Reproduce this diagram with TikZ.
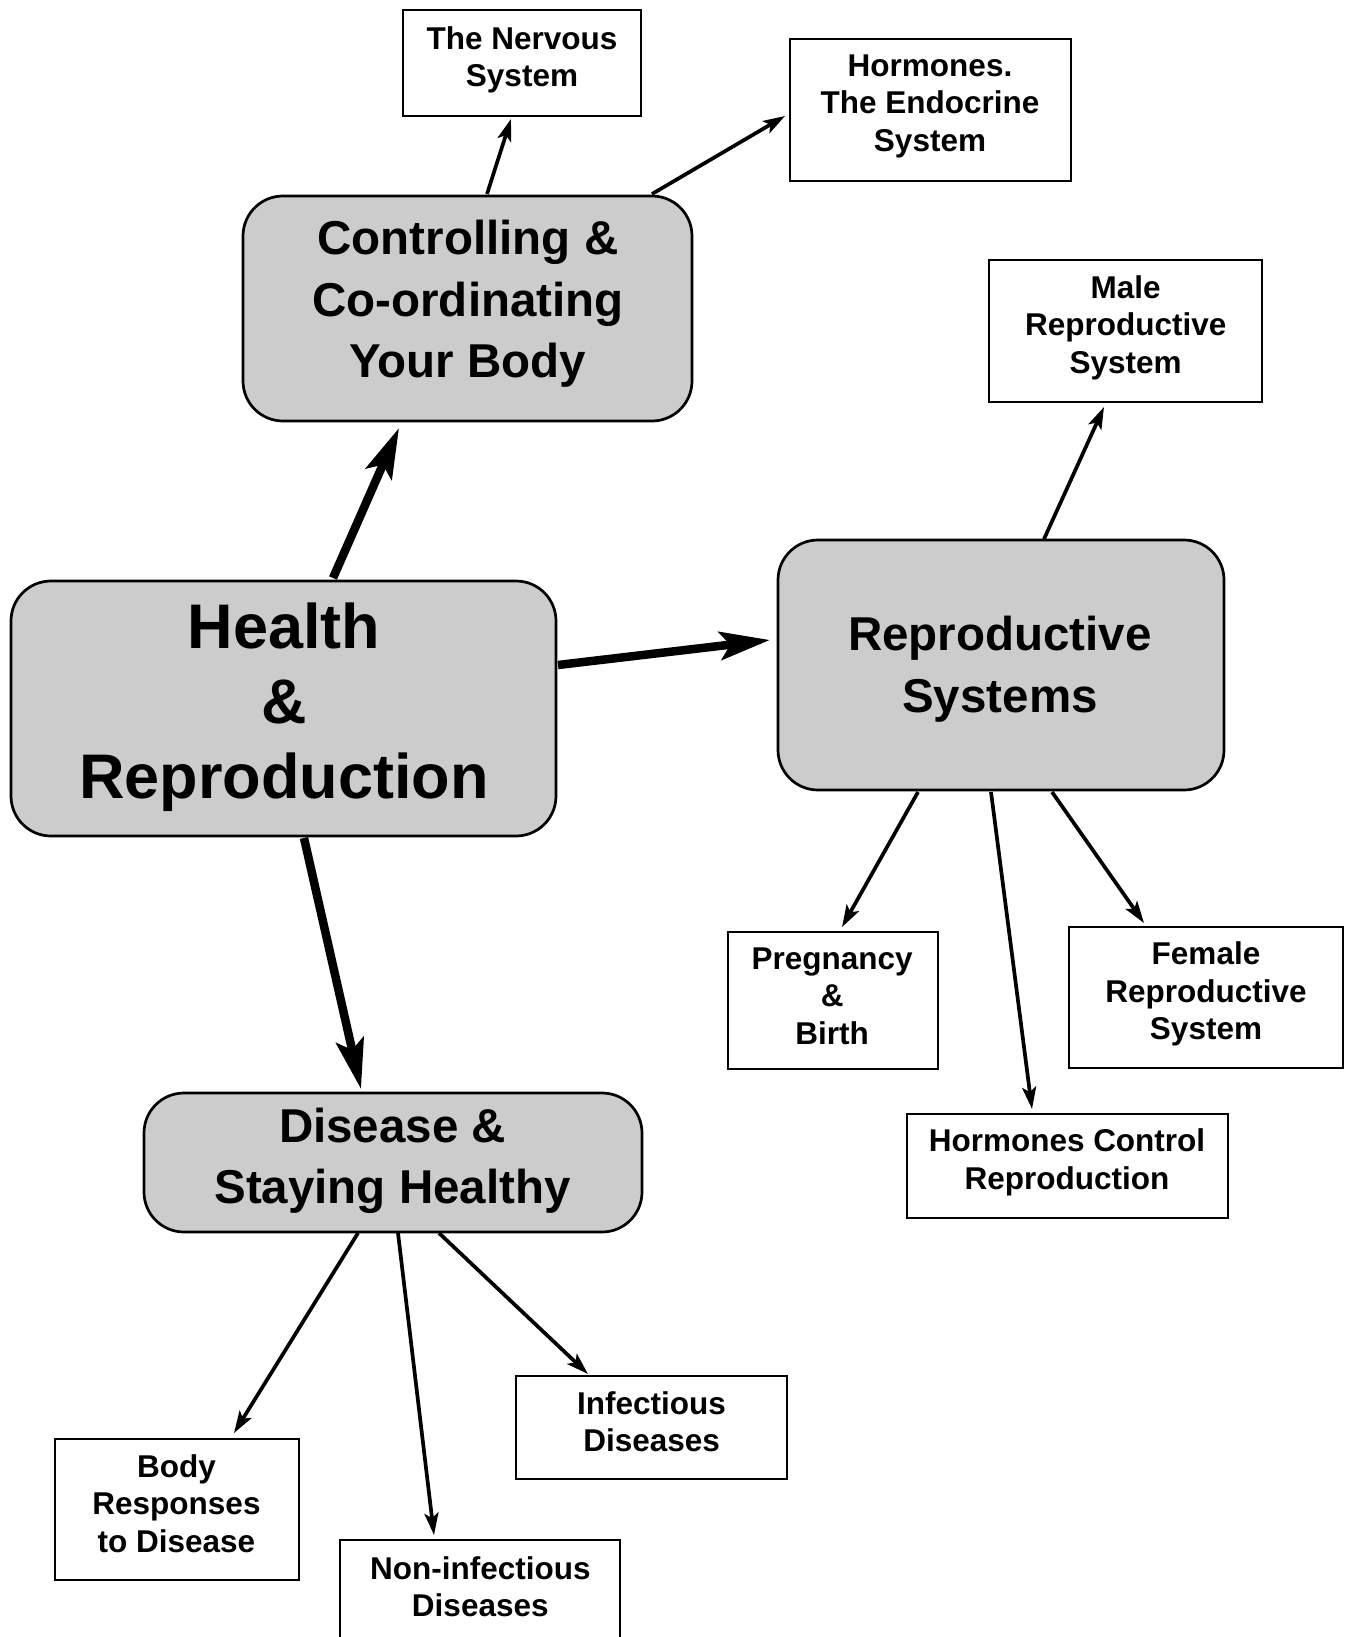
\documentclass[tikz,border=0pt]{standalone}
\usepackage{fontspec}
\setmainfont{Liberation Sans}
\usetikzlibrary{arrows.meta}
\definecolor{boxgray}{HTML}{CCCCCC}
\newcommand{\fsmall}{\fontsize{31.5}{37.5}\selectfont\bfseries}
\newcommand{\fmed}{\fontsize{47.5}{61.6}\selectfont\bfseries}
\newcommand{\flarge}{\fontsize{63}{75.2}\selectfont\bfseries}
\tikzset{
  plainbox/.style={draw=black, line width=2.7pt, fill=white, inner sep=0pt, outer sep=0pt},
  graybox/.style={draw=black, line width=2.7pt, fill=boxgray, rounded corners=40pt, inner sep=0pt, outer sep=0pt},
  txt/.style={align=center, inner sep=0pt, outer sep=0pt},
  thinarrow/.style={line width=3.7pt, -{Stealth[length=22pt,width=14pt,inset=5pt]}},
  thickarrow/.style={line width=8.5pt, -{Stealth[length=50pt,width=28pt,inset=10pt]}}
}
\begin{document}
\begin{tikzpicture}[x=1pt,y=-1pt]
\useasboundingbox (0,0) rectangle (1347,1637);
\clip (0,0) rectangle (1347,1637);
\fill[white] (0,0) rectangle (1347,1637);

% boxes
\node[plainbox, minimum width=238pt, minimum height=106pt] (nerv) at (522,63) {};
\node[plainbox, minimum width=281pt, minimum height=142pt] (endo) at (930.5,110) {};
\node[graybox, minimum width=449pt, minimum height=225pt] (ctrl) at (467.5,308.5) {};
\node[plainbox, minimum width=273pt, minimum height=142pt] (male) at (1125.5,331) {};
\node[graybox, minimum width=545pt, minimum height=255pt] (health) at (283.5,708.5) {};
\node[graybox, minimum width=446pt, minimum height=250pt] (repro) at (1001,665) {};
\node[plainbox, minimum width=210pt, minimum height=137pt] (preg) at (833,1000.5) {};
\node[plainbox, minimum width=274pt, minimum height=141pt] (fem) at (1206,997.5) {};
\node[plainbox, minimum width=321pt, minimum height=104pt] (hc) at (1067.5,1166) {};
\node[graybox, minimum width=498pt, minimum height=139pt] (dis) at (393,1162.5) {};
\node[plainbox, minimum width=244pt, minimum height=141pt] (body) at (177,1509.5) {};
\node[plainbox, minimum width=271pt, minimum height=103pt] (inf) at (651.5,1427.5) {};
\node[plainbox, minimum width=280pt, minimum height=140pt] (noninf) at (480,1610) {};

% texts
\node[txt, font=\fsmall] (tnerv) at (522,59.8) {The Nervous\\System};
\node[txt, font=\fsmall] (tendo) at (930,106) {Hormones.\\The Endocrine\\System};
\node[txt, font=\fmed] (tctrl) at (468,304) {Controlling \&\\Co-ordinating\\Your Body};
\node[txt, font=\fsmall] (tmale) at (1125.7,327.5) {Male\\Reproductive\\System};
\node[txt, font=\flarge] (thealth) at (284,707) {Health\\\&\\Reproduction};
\node[txt, font=\fmed] (trepro) at (1000,669) {Reproductive\\Systems};
\node[txt, font=\fsmall] (tpreg) at (832.2,996.2) {Pregnancy\\\&\\Birth};
\node[txt, font=\fsmall] (tfem) at (1206,994.3) {Female\\Reproductive\\System};
\node[txt, font=\fsmall] (thc) at (1067,1162.3) {Hormones Control\\Reproduction};
\node[txt, font=\fmed] (tdis) at (392.6,1161) {Disease \&\\Staying Healthy};
\node[txt, font=\fsmall] (tbody) at (176.5,1503.6) {Body\\Responses\\to Disease};
\node[txt, font=\fsmall] (tinf) at (651.6,1421.7) {Infectious\\Diseases};
\node[txt, font=\fsmall] (tnoninf) at (480.3,1586.7) {Non-infectious\\Diseases};

% connectors
\draw[thinarrow] ([xshift=19.5pt,yshift=2pt]ctrl.north) -- ([xshift=-11pt,yshift=-3pt]nerv.south);
\draw[thinarrow] ([xshift=184.5pt,yshift=2pt]ctrl.north) -- ([xshift=-5pt,yshift=-6pt]endo.west);
\draw[thickarrow] ([xshift=49.5pt,yshift=3pt]health.north) -- ([xshift=-68.5pt,yshift=-7pt]ctrl.south);
\draw[thickarrow] ([xshift=2pt,yshift=43.5pt]health.east) -- ([xshift=-8pt,yshift=25pt]repro.west);
\draw[thickarrow] ([xshift=20.5pt,yshift=-2pt]health.south) -- ([xshift=-32pt,yshift=4pt]dis.north);
\draw[thinarrow] ([xshift=43pt,yshift=1pt]repro.north) -- ([xshift=-21.5pt,yshift=-5pt]male.south);
\draw[thinarrow] ([xshift=-83pt,yshift=-2pt]repro.south) -- ([xshift=9pt,yshift=5pt]preg.north);
\draw[thinarrow] ([xshift=-10pt,yshift=-2pt]repro.south) -- ([xshift=-35.5pt,yshift=5pt]hc.north);
\draw[thinarrow] ([xshift=51pt,yshift=-2pt]repro.south) -- ([xshift=-62pt,yshift=4pt]fem.north);
\draw[thinarrow] ([xshift=-35pt,yshift=-1pt]dis.south) -- ([xshift=57pt,yshift=6pt]body.north);
\draw[thinarrow] ([xshift=5pt,yshift=-1pt]dis.south) -- ([xshift=-46pt,yshift=5pt]noninf.north);
\draw[thinarrow] ([xshift=46pt,yshift=-1pt]dis.south) -- ([xshift=-63.5pt,yshift=2pt]inf.north);
\end{tikzpicture}
\end{document}
